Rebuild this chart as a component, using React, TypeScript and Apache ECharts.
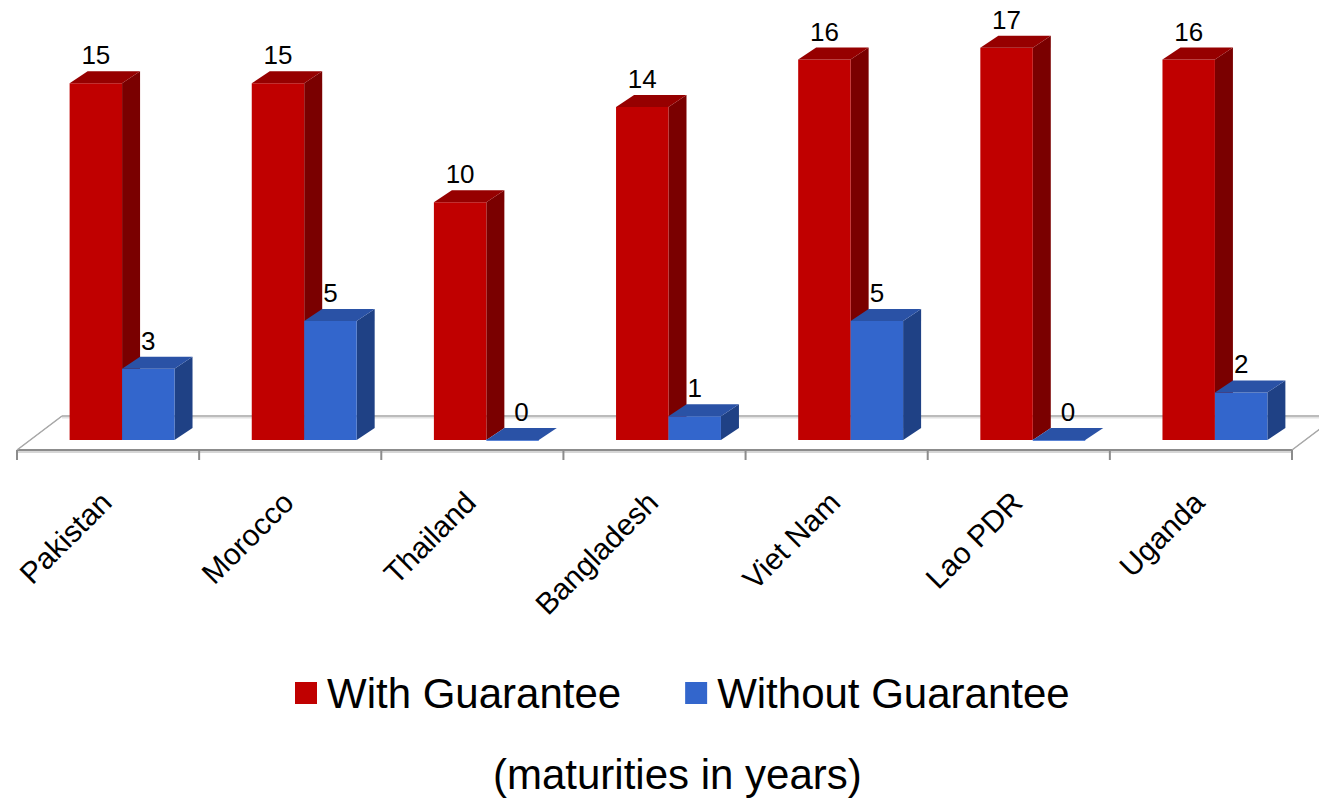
import React, { useEffect, useRef } from "react";
import * as echarts from "echarts";

const categories = ["Pakistan", "Morocco", "Thailand", "Bangladesh", "Viet Nam", "Lao PDR", "Uganda"];
const withGuarantee = [15, 15, 10, 14, 16, 16.5, 16];
const withoutGuarantee = [3, 5, 0, 1, 5, 0, 2];
const seriesNames = ["With Guarantee", "Without Guarantee"];
const subtitle = "(maturities in years)";

const FONT = "'Liberation Sans', Arial, sans-serif";
const DX = 18;
const DY = -12;

const RED = { front: "#C00000", side: "#7A0000", top: "#960000" };
const BLUE = { front: "#3366CC", side: "#1F4185", top: "#2A52A6" };

function bar3d(slot: number, colors: { front: string; side: string; top: string }) {
  return (params: any, api: any) => {
    const cat = api.value(0);
    const val = api.value(1);
    const base = api.coord([cat, 0]);
    const top = api.coord([cat, val]);
    const band = api.size([1, 0])[0];
    const w = band * 0.288;
    const x0 = slot === 0 ? base[0] - w : base[0];
    const x1 = x0 + w;
    const yb = base[1];
    const yt = top[1];
    const children: any[] = [];
    const h = yb - yt;
    if (h > 0.5) {
      children.push({
        type: "polygon",
        shape: { points: [[x1, yb], [x1 + DX, yb + DY], [x1 + DX, yt + DY], [x1, yt]] },
        style: { fill: colors.side },
      });
      children.push({
        type: "rect",
        shape: { x: x0, y: yt, width: w, height: h },
        style: { fill: colors.front },
      });
    } else {
      children.push({
        type: "rect",
        shape: { x: x0, y: yb - 1, width: w, height: 2 },
        style: { fill: "#5A84D6" },
      });
    }
    children.push({
      type: "polygon",
      shape: { points: [[x0, yt], [x1, yt], [x1 + DX, yt + DY], [x0 + DX, yt + DY]] },
      style: { fill: colors.top },
    });
    children.push({
      type: "text",
      style: {
        text: String(Math.round(val)),
        x: (x0 + x1) / 2 + (h > 0.5 ? 0 : DX / 2),
        y: yt + DY - 3,
        align: "center",
        verticalAlign: "bottom",
        font: `26px ${FONT}`,
        fill: "#000",
      },
    });
    return { type: "group", children };
  };
}

function floorRender(params: any, api: any) {
  const n = categories.length;
  const band = api.size([1, 0])[0];
  const c0 = api.coord([0, 0]);
  const left = c0[0] - band / 2 - 14;
  const right = left + band * n;
  const yf = c0[1] + 10;
  const yb = c0[1] - 24;
  const fdx = 45;
  const children: any[] = [];
  children.push({
    type: "polygon",
    shape: { points: [[left, yf], [right, yf], [right + fdx, yb], [left + fdx, yb]] },
    style: { fill: "#FFFFFF", stroke: "#B8B8B8", lineWidth: 1 },
  });
  children.push({
    type: "line",
    shape: { x1: left + fdx, y1: yb + 1.5, x2: right + fdx, y2: yb + 1.5 },
    style: { stroke: "#E2E2E2", lineWidth: 2 },
  });
  children.push({
    type: "line",
    shape: { x1: left + fdx, y1: yb, x2: right + fdx, y2: yb },
    style: { stroke: "#9A9A9A", lineWidth: 1.2 },
  });
  children.push({
    type: "line",
    shape: { x1: left, y1: yf + 2, x2: right, y2: yf + 2 },
    style: { stroke: "#D6D6D6", lineWidth: 2 },
  });
  children.push({
    type: "line",
    shape: { x1: left, y1: yf, x2: right, y2: yf },
    style: { stroke: "#8C8C8C", lineWidth: 2 },
  });
  children.push({
    type: "line",
    shape: { x1: left, y1: yf, x2: left + fdx, y2: yb },
    style: { stroke: "#A8A8A8", lineWidth: 1.5 },
  });
  children.push({
    type: "line",
    shape: { x1: right, y1: yf, x2: right + fdx, y2: yb },
    style: { stroke: "#A8A8A8", lineWidth: 1.5 },
  });
  for (let k = 0; k <= n; k++) {
    const x = left + band * k;
    children.push({
      type: "line",
      shape: { x1: x, y1: yf, x2: x, y2: yf + 10 },
      style: { stroke: "#8C8C8C", lineWidth: 2 },
    });
  }
  return { type: "group", children };
}

export default function App() {
  const ref = useRef<HTMLDivElement>(null);
  useEffect(() => {
    if (!ref.current) return;
    const chart = echarts.init(ref.current, undefined, { renderer: "svg" });
    chart.setOption({
      animation: false,
      backgroundColor: "#FFFFFF",
      title: {
        text: subtitle,
        left: 488,
        top: 748,
        textStyle: { fontSize: 42, fontWeight: "normal", fontFamily: FONT, color: "#000", lineHeight: 42 },
      },
      legend: {
        data: seriesNames,
        left: 290,
        top: 664,
        itemWidth: 22,
        itemHeight: 22,
        itemGap: 64,
        icon: "rect",
        selectedMode: false,
        textStyle: { fontSize: 42, fontFamily: FONT, color: "#000", lineHeight: 48, padding: [0, 0, 0, 5] },
      },
      grid: [
        { left: 31, width: 1275, top: 12, height: 428 },
        { left: 15, width: 1275, top: 12, height: 428 },
      ],
      xAxis: [
        {
          type: "category",
          gridIndex: 0,
          data: categories,
          axisLine: { show: false },
          axisTick: { show: false },
          splitLine: { show: false },
          axisLabel: { show: false },
        },
        {
          type: "category",
          gridIndex: 1,
          data: categories,
          axisLine: { show: false },
          axisTick: { show: false },
          splitLine: { show: false },
          axisLabel: {
            interval: 0,
            rotate: 45,
            fontSize: 30,
            fontFamily: FONT,
            color: "#000",
            margin: 57,
          },
        },
      ],
      yAxis: [
        { type: "value", gridIndex: 0, min: 0, max: 18, show: false },
        { type: "value", gridIndex: 1, min: 0, max: 18, show: false },
      ],
      series: [
        {
          type: "custom",
          name: "floor",
          z: 1,
          silent: true,
          renderItem: floorRender,
          data: [[0, 0]],
          encode: { x: 0, y: 1 },
        },
        {
          type: "custom",
          name: seriesNames[0],
          z: 2,
          itemStyle: { color: RED.front },
          renderItem: bar3d(0, RED),
          data: categories.map((c, i) => [i, withGuarantee[i]]),
          encode: { x: 0, y: 1 },
        },
        {
          type: "custom",
          name: seriesNames[1],
          z: 3,
          itemStyle: { color: BLUE.front },
          renderItem: bar3d(1, BLUE),
          data: categories.map((c, i) => [i, withoutGuarantee[i]]),
          encode: { x: 0, y: 1 },
        },
      ],
    });
    return () => chart.dispose();
  }, []);
  return (
    <div
      ref={ref}
      style={{ position: "fixed", left: 0, top: 0, width: 1319, height: 798, background: "#fff" }}
    />
  );
}
